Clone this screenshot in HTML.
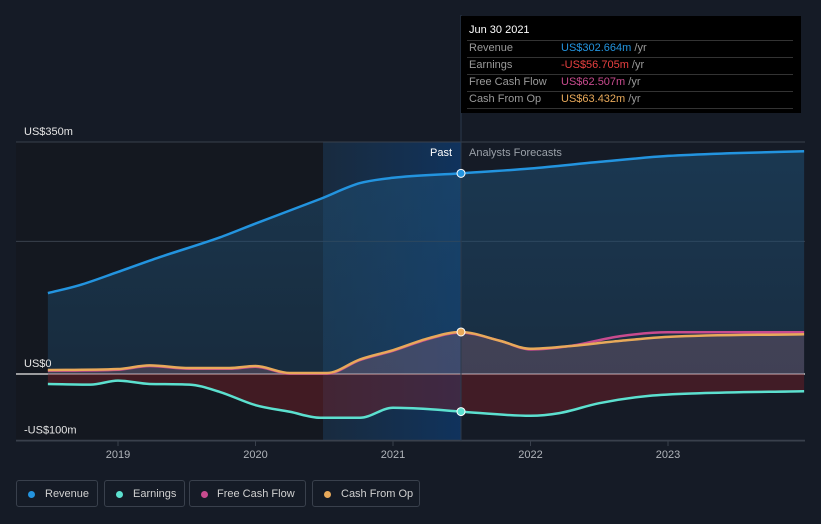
<!DOCTYPE html>
<html><head><meta charset="utf-8"><style>
body{margin:0;background:#151b26;font-family:"Liberation Sans",sans-serif;}
svg{display:block}
</style></head><body>
<svg id="c" width="821" height="524">
<defs>
<linearGradient id="pastg" x1="0" x2="1" y1="0" y2="0"><stop offset="0" stop-color="#1a3550" stop-opacity="0.6"/><stop offset="1" stop-color="#0f3460" stop-opacity="0.95"/></linearGradient>
<linearGradient id="revg" x1="0" x2="0" y1="0" y2="1"><stop offset="0" stop-color="#1f4f74" stop-opacity="0.55"/><stop offset="1" stop-color="#1f4f74" stop-opacity="0.35"/></linearGradient>
</defs>
<rect x="0" y="0" width="821" height="524" fill="#151b26"/>
<rect x="16" y="142" width="307" height="299" fill="#141820"/>
<rect x="323" y="142" width="138" height="299" fill="url(#pastg)"/>
<g id="grid"></g>
<g id="areas"></g>
<g id="lines"></g>
<g id="labels"></g>
</svg>
<script>
const categories=["Revenue","Earnings","Free Cash Flow","Cash From Op"];
const revYears=[2018.49,2018.72,2019,2019.3,2019.74,2020,2020.47,2020.76,2021,2021.49,2022,2022.5,2023,2023.45,2023.99];
const revVals=[122,134,154,176,206,227,264,288,296,302.7,310,320,329,333,336];
const earnYears=[2018.49,2018.8,2019,2019.23,2019.52,2019.74,2020,2020.25,2020.47,2020.76,2021,2021.26,2021.49,2022,2022.21,2022.5,2022.86,2023.23,2023.99];
const earnVals=[-15,-16,-10,-15,-16,-27,-47,-57,-66,-66,-51,-53,-56.7,-63,-59,-44,-33,-29,-26];
const cfoYears=[2018.49,2019,2019.23,2019.52,2019.81,2020,2020.25,2020.52,2020.76,2021,2021.26,2021.49,2021.78,2022,2022.28,2022.65,2023,2023.99];
const cfoVals=[6,7.5,13,9,9,12,1.5,1.5,22,36,54,63.4,50,38,42,50,56,60];
const fcfVals=[5,6.5,12,8,8,11,0.5,0.5,21,35,53,62.5,50,37,42,57,63,63];
const yTicks=[350,200,0,-100];
const yTickLabels=["US$350m","","US$0","-US$100m"];
const xTicks=[2019,2020,2021,2022,2023];
const X=y=>118+(y-2019)*137.5;
const Y=v=>374-v*232/350;
const NS="http://www.w3.org/2000/svg";
function mk(t,a,p){const e=document.createElementNS(NS,t);for(const k in a)e.setAttribute(k,a[k]);document.getElementById(p).appendChild(e);return e;}
function path(xs,vs){
 const p=xs.map((x,i)=>[X(x),Y(vs[i])]);const n=p.length;
 // monotone cubic (Fritsch-Carlson)
 const d=[],m=[];
 for(let i=0;i<n-1;i++)d.push((p[i+1][1]-p[i][1])/(p[i+1][0]-p[i][0]));
 m[0]=d[0];m[n-1]=d[n-2];
 for(let i=1;i<n-1;i++)m[i]=(d[i-1]*d[i]<=0)?0:(d[i-1]+d[i])/2;
 for(let i=0;i<n-1;i++){if(d[i]===0){m[i]=0;m[i+1]=0;continue;}const a=m[i]/d[i],b=m[i+1]/d[i],s=a*a+b*b;if(s>9){const t=3/Math.sqrt(s);m[i]=t*a*d[i];m[i+1]=t*b*d[i];}}
 let s="M"+p[0][0]+","+p[0][1];
 for(let i=0;i<n-1;i++){const h=(p[i+1][0]-p[i][0])/3;s+=` C${p[i][0]+h},${p[i][1]+m[i]*h} ${p[i+1][0]-h},${p[i+1][1]-m[i+1]*h} ${p[i+1][0]},${p[i+1][1]}`;}
 return s;}
yTicks.forEach((v,i)=>{
 const l=mk("line",{x1:16,x2:805,y1:Y(v),y2:Y(v),stroke:v===0?"#c8c8c8":"#39404c","stroke-width":v===0?1.5:1},"grid");
 
 
 if(yTickLabels[i]){const t=mk("text",{x:24,y:Y(v)-7,fill:"#e6e6e6","font-size":11},"labels");t.textContent=yTickLabels[i];
 
 }
});
const ax=mk("line",{x1:16,x2:805,y1:441,y2:441,stroke:"#39404c"},"grid");


xTicks.forEach(y=>{const l=mk("line",{x1:X(y),x2:X(y),y1:441,y2:446,stroke:"#39404c"},"grid");


const t=mk("text",{x:X(y),y:458,fill:"#b0b4ba","font-size":11,"text-anchor":"middle"},"labels");t.textContent=y;

});
function area(xs,vs,fill,name){const d=path(xs,vs)+` L${X(xs[xs.length-1])},${Y(0)} L${X(xs[0])},${Y(0)} Z`;const a=mk("path",{d,fill},"areas");

}
area(revYears,revVals,"url(#revg)","revenue-area");
area(earnYears,earnVals,"rgba(120,30,40,0.45)","earnings-area");
area(cfoYears,cfoVals,"rgba(160,110,130,0.3)","cashflow-area");
function line(xs,vs,c,name){const l=mk("path",{d:path(xs,vs),fill:"none",stroke:c,"stroke-width":2.5},"lines");

}
line(revYears,revVals,"#2394df","revenue-line");
line(earnYears,earnVals,"#5ce0cf","earnings-line");
line(cfoYears,fcfVals,"#c84b8e","free-cash-flow-line");
line(cfoYears,cfoVals,"#e8a95a","cash-from-op-line");
const dl=mk("line",{x1:461,x2:461,y1:15,y2:441,stroke:"#2c3a4c"},"lines");


[[302.7,"#2394df"],[-56.7,"#5ce0cf"],[63.4,"#e8a95a"]].forEach(p=>{const c=mk("circle",{cx:461,cy:Y(p[0]),r:4,fill:p[1],stroke:"#fff","stroke-width":1},"lines");

});
</script>
<div style="position:absolute;left:430px;top:147px;color:#fff;font-size:11px">Past</div>
<div style="position:absolute;left:469px;top:147px;color:#9aa0a8;font-size:11px">Analysts Forecasts</div>
<div style="position:absolute;left:461px;top:16px;width:340px;height:97px;background:#000;font-size:11px;color:#9a9a9a">
 <div style="position:absolute;left:8px;top:8px;color:#fff;font-size:11px">Jun 30 2021</div>
 <div style="position:absolute;left:6px;right:8px;top:24px;border-top:1px solid #333"></div>
 <div style="position:absolute;left:8px;top:26px">Revenue</div><div style="position:absolute;left:100px;top:26px"><span style="color:#2394df">US$302.664m</span> /yr</div>
 <div style="position:absolute;left:6px;right:8px;top:41px;border-top:1px solid #333"></div>
 <div style="position:absolute;left:8px;top:43px">Earnings</div><div style="position:absolute;left:100px;top:43px"><span style="color:#e84040">-US$56.705m</span> /yr</div>
 <div style="position:absolute;left:6px;right:8px;top:58px;border-top:1px solid #333"></div>
 <div style="position:absolute;left:8px;top:60px">Free Cash Flow</div><div style="position:absolute;left:100px;top:60px"><span style="color:#c84b8e">US$62.507m</span> /yr</div>
 <div style="position:absolute;left:6px;right:8px;top:75px;border-top:1px solid #333"></div>
 <div style="position:absolute;left:8px;top:77px">Cash From Op</div><div style="position:absolute;left:100px;top:77px"><span style="color:#e8a95a">US$63.432m</span> /yr</div>
 <div style="position:absolute;left:6px;right:8px;top:92px;border-top:1px solid #333"></div>
</div>
<div style="position:absolute;left:16px;top:480px;font-size:11px;color:#d0d0d0">
 <div style="position:absolute;left:0;top:0;width:82px;height:27px;border:1px solid #39404c;border-radius:3px;box-sizing:border-box"><span style="position:absolute;left:11px;top:10px;width:7px;height:7px;border-radius:50%;background:#2394df"></span><span style="position:absolute;left:28px;top:7px">Revenue</span></div>
 <div style="position:absolute;left:88px;top:0;width:81px;height:27px;border:1px solid #39404c;border-radius:3px;box-sizing:border-box"><span style="position:absolute;left:11px;top:10px;width:7px;height:7px;border-radius:50%;background:#5ce0cf"></span><span style="position:absolute;left:28px;top:7px">Earnings</span></div>
 <div style="position:absolute;left:173px;top:0;width:117px;height:27px;border:1px solid #39404c;border-radius:3px;box-sizing:border-box"><span style="position:absolute;left:11px;top:10px;width:7px;height:7px;border-radius:50%;background:#c84b8e"></span><span style="position:absolute;left:27px;top:7px">Free Cash Flow</span></div>
 <div style="position:absolute;left:296px;top:0;width:108px;height:27px;border:1px solid #39404c;border-radius:3px;box-sizing:border-box"><span style="position:absolute;left:11px;top:10px;width:7px;height:7px;border-radius:50%;background:#e8a95a"></span><span style="position:absolute;left:28px;top:7px">Cash From Op</span></div>
</div>
</body></html>
